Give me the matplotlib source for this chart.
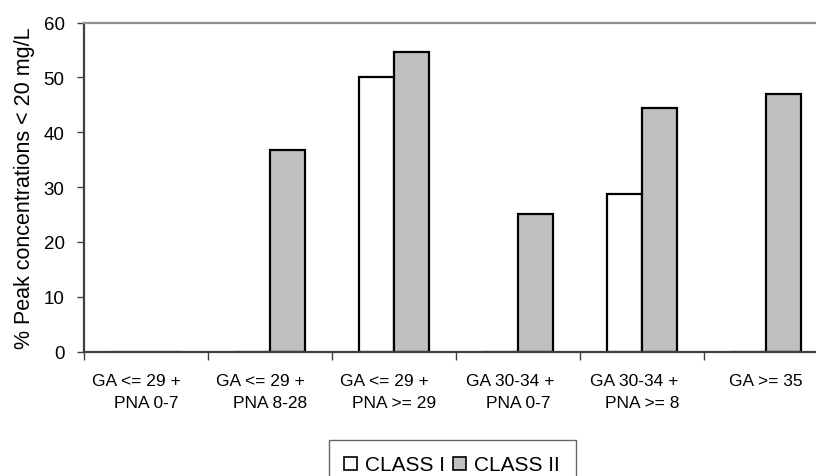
"""
Peak concentrations below 20 mg/L by GA / PNA group
"""

import matplotlib.pyplot as plt
import numpy as np
from matplotlib.patches import Patch

plt.rcParams["font.family"] = ["Liberation Sans", "DejaVu Sans"]

# trailing spaces on the first line mimic the original's word-wrapped labels
categories = [
    "GA <= 29 +    \nPNA 0-7",
    "GA <= 29 +    \nPNA 8-28",
    "GA <= 29 +    \nPNA >= 29",
    "GA 30-34 +   \nPNA 0-7",
    "GA 30-34 +   \nPNA >= 8",
    "GA >= 35",
]
class_1 = [0, 0, 50.0, 0, 28.7, 0]
class_2 = [0, 36.8, 54.6, 25.1, 44.4, 47.0]
series_names = ["CLASS I", "CLASS II"]

fig = plt.figure(figsize=(8.16, 4.77), dpi=100)
# plot area runs past the right edge of the picture, as in the original crop
ax = fig.add_axes([84 / 816, 1 - 352.7 / 477, 744 / 816, 329.2 / 477])

x = np.arange(len(categories))
w = 1 / 3.5
ax.bar(x - w / 2, class_1, width=w, color="white", edgecolor="black", linewidth=1.6)
ax.bar(x + w / 2, class_2, width=w, color="#c0c0c0", edgecolor="black", linewidth=1.6)

ax.set_xlim(-0.5, len(categories) - 0.5)
ax.set_ylim(0, 60)
ax.set_yticks(range(0, 61, 10))
ax.tick_params(axis="y", direction="out", length=5, width=1, color="#404040",
               labelsize=13.5, pad=9)

# boundary ticks (major) and centred labels (minor)
ax.set_xticks(np.arange(len(categories) + 1) - 0.5)
ax.set_xticklabels([])
ax.set_xticks(x, minor=True)
ax.set_xticklabels(categories, minor=True, fontsize=12.5, linespacing=1.65)
ax.tick_params(axis="x", which="major", direction="out", length=6, width=1, color="#404040")
ax.tick_params(axis="x", which="minor", length=0, pad=15)

ax.spines["left"].set_color("#404040")
ax.spines["left"].set_linewidth(1.6)
ax.spines["bottom"].set_color("#404040")
ax.spines["bottom"].set_linewidth(1.6)
ax.spines["top"].set_color("#909090")
ax.spines["top"].set_linewidth(1.6)
ax.spines["right"].set_visible(False)

ax.set_ylabel("% Peak concentrations < 20 mg/L", fontsize=15.5, labelpad=6)

handles = [
    Patch(facecolor="white", edgecolor="black", linewidth=1.2),
    Patch(facecolor="#c0c0c0", edgecolor="black", linewidth=1.2),
]
fig.legend(
    handles,
    series_names,
    loc="center",
    bbox_to_anchor=(452 / 816, 1 - 466 / 477),
    ncol=2,
    fontsize=15,
    frameon=True,
    fancybox=False,
    edgecolor="#404040",
    handlelength=0.6,
    handleheight=0.6,
    handletextpad=0.4,
    columnspacing=0.4,
    borderpad=0.75,
    borderaxespad=0,
)

fig.savefig("out.png", dpi=100)
